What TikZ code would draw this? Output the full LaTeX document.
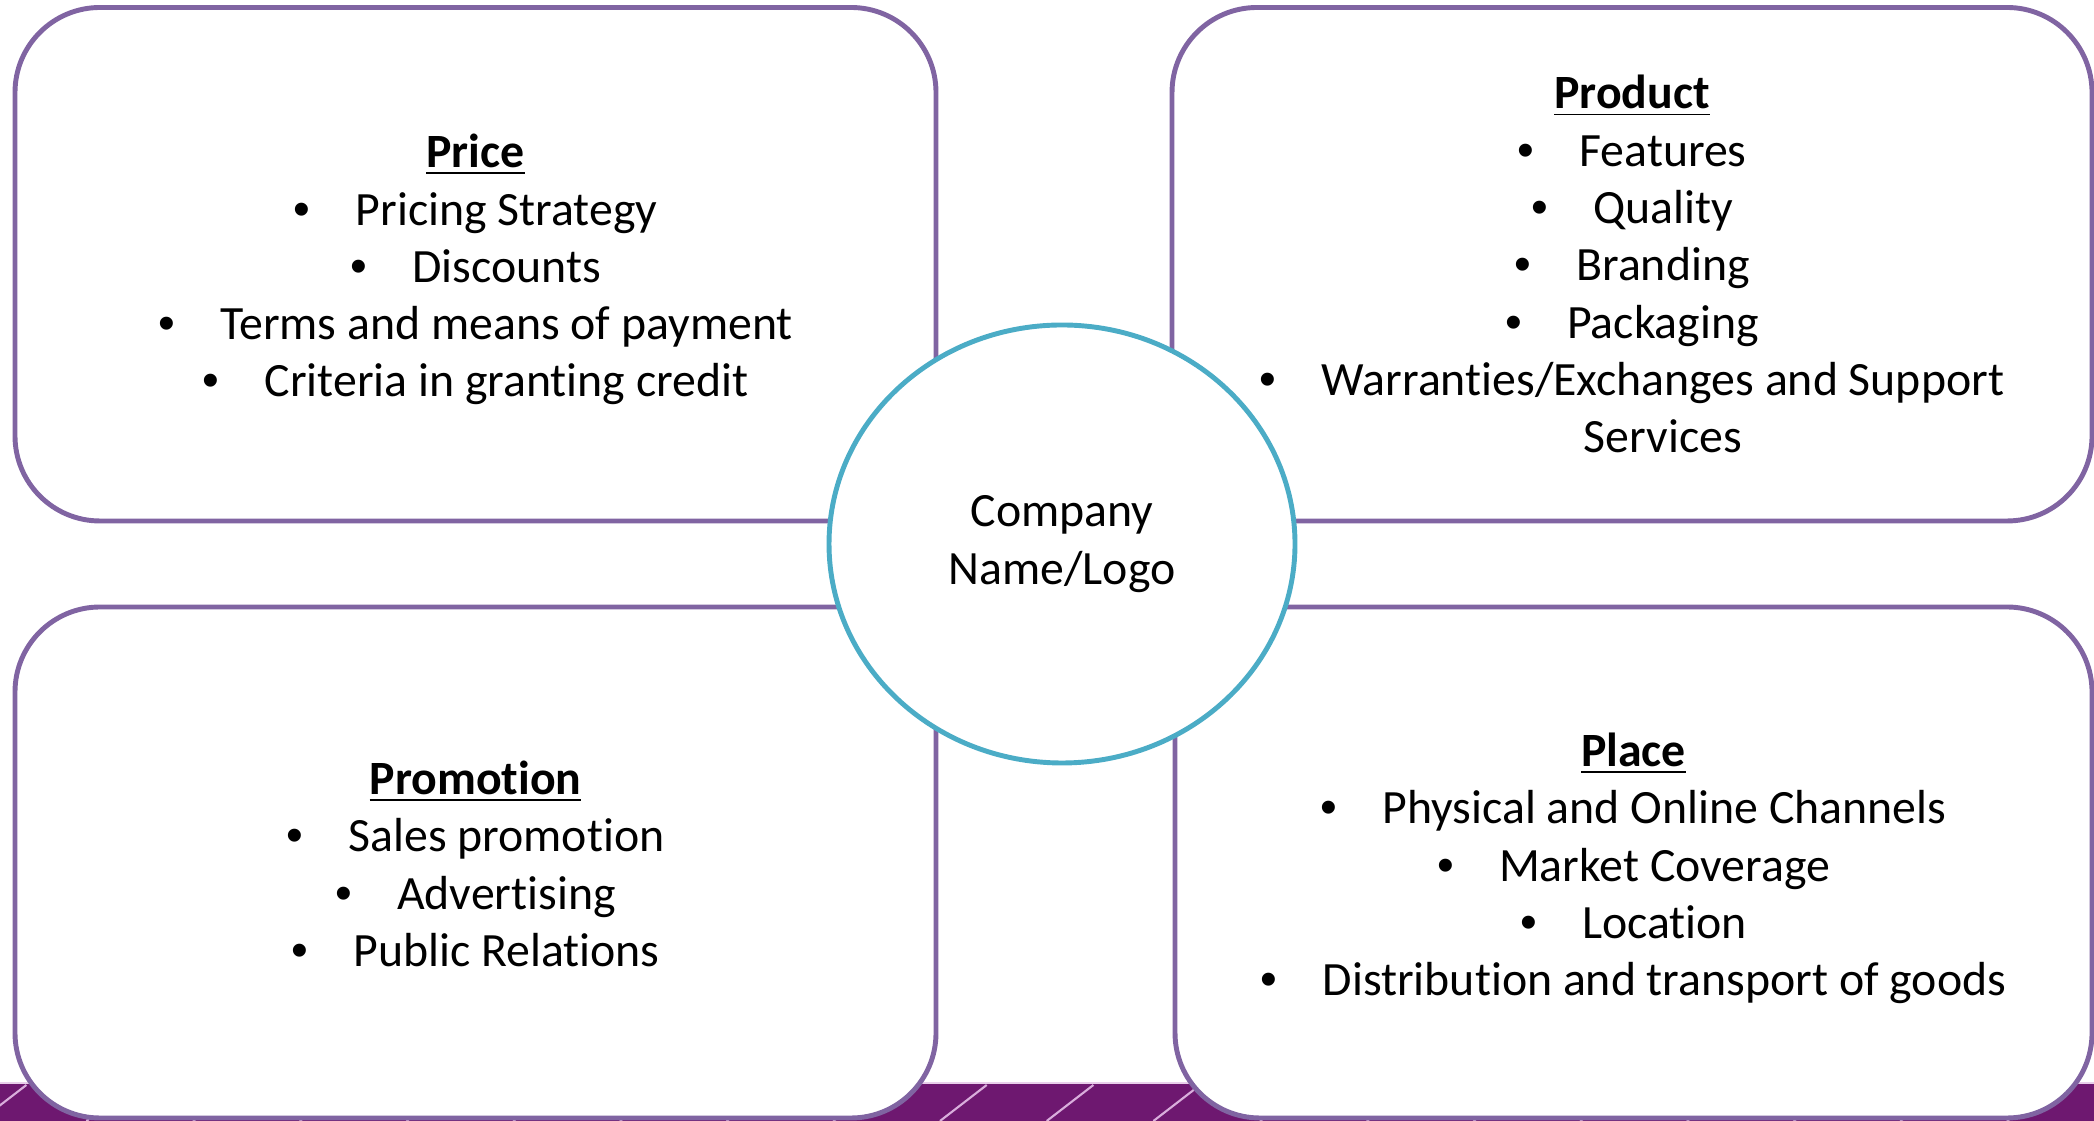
\documentclass[tikz,border=0pt]{standalone}
\usepackage{fontspec}
\setmainfont{Carlito}[RawFeature=-liga]
\newfontfamily\bulletfont{Liberation Sans}
\usetikzlibrary{shapes.geometric}

\definecolor{boxline}{HTML}{8064A2}
\definecolor{ringline}{HTML}{4BACC6}
\definecolor{bandfill}{HTML}{6E1870}
\definecolor{bandline}{HTML}{D9AEDC}

% one centred bullet line
\newcommand{\bul}[1]{\makebox[0.62cm][l]{\bulletfont\textbullet}#1}
\newcommand{\head}[1]{\textbf{\underline{#1}}}

\begin{document}
\begin{tikzpicture}[line join=round,
		mixbox/.style={draw=boxline,line width=1.4pt,fill=white,rounded corners=0.85cm,inner sep=0pt},
		mixtext/.style={align=center,inner sep=0pt,font=\fontsize{13.6}{16.3}\selectfont},
		ring/.style={ellipse,draw=ringline,line width=1.4pt,fill=white,inner sep=0pt,
			align=center,font=\fontsize{13.6}{16.3}\selectfont}]
		\useasboundingbox (0,0) rectangle (20.94,11.21);
		% purple strip along the bottom
		\begin{scope}
			\clip (0,0) rectangle (20.94,0.38);
			\fill[bandfill] (0,0) rectangle (20.94,0.38);
			\foreach \k in {-9,...,10}
				\draw[bandline,line width=0.6pt] ({9.40+1.067*\k},0) -- ++(0.467,0.36);
		\end{scope}
		\draw[bandline!60,line width=0.5pt] (0,0.38) -- (20.94,0.38);
		% the four boxes
		\node[mixbox,minimum width=9.21cm,minimum height=5.135cm] (price) at (4.755,8.5675) {};
		\node[mixbox,minimum width=9.20cm,minimum height=5.135cm] (product) at (16.32,8.5675) {};
		\node[mixbox,minimum width=9.21cm,minimum height=5.11cm] (promotion) at (4.755,2.585) {};
		\node[mixbox,minimum width=9.17cm,minimum height=5.11cm] (place) at (16.335,2.585) {};
		% their lists
		\node[mixtext] (price list) at ([yshift=-0.055cm]price.center)
			{\head{Price}\\ \bul{Pricing Strategy}\\ \bul{Discounts}\\
			 \bul{Terms and means of payment}\\ \bul{Criteria in granting credit}};
		\node[mixtext] (product list) at (product.center)
			{\head{Product}\\ \bul{Features}\\ \bul{Quality}\\ \bul{Branding}\\ \bul{Packaging}\\
			 \bul{Warranties/Exchanges and Support}\\ \hspace*{0.62cm}Services};
		\node[mixtext] (promotion list) at ([yshift=-0.015cm]promotion.center)
			{\head{Promotion}\\ \bul{Sales promotion}\\ \bul{Advertising}\\ \bul{Public Relations}};
		\node[mixtext] (place list) at ([yshift=-0.06cm]place.center)
			{\head{Place}\\ \bul{Physical and Online Channels}\\ \bul{Market Coverage}\\
			 \bul{Location}\\ \bul{Distribution and transport of goods}};
		% centre circle
		\node[ring,minimum width=4.66cm,minimum height=4.38cm] (logo) at (10.62,5.77)
			{Company\\Name/Logo};
	\end{tikzpicture}
\end{document}
